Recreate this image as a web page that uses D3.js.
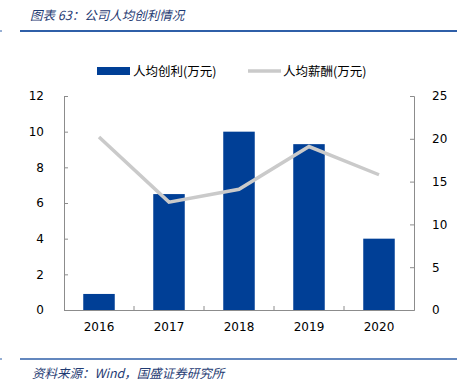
<!DOCTYPE html>
<html><head><meta charset="utf-8">
<script src="https://cdn.jsdelivr.net/npm/d3@7"></script>
<style>
body{margin:0;background:#fff;}
text{font-family:"DejaVu Sans",sans-serif;}
</style></head>
<body><svg id="c" width="457" height="390"></svg>
<script>
const categories = ["2016","2017","2018","2019","2020"];
const profitPerCapita = [0.9, 6.5, 10.0, 9.3, 4.0];
const salaryPerCapita = [20.2, 12.6, 14.1, 19.1, 15.8];
const leftTicks = [0,2,4,6,8,10,12];
const rightTicks = [0,5,10,15,20,25];
const seriesNames = ["人均创利(万元)","人均薪酬(万元)"];
const titleText = "图表 63：公司人均创利情况";
const sourceText = "资料来源：Wind，国盛证券研究所";

const svg = d3.select("#c");
const cjk = '"Noto Sans CJK SC",sans-serif';
const L = 64, R = 414, T = 96, B = 310;

// header
svg.append("text").attr("x",30).attr("y",20).attr("font-size",12.5)
  .attr("font-style","italic").attr("fill","#1f3b73").style("font-family",cjk).text(titleText);
svg.append("line").attr("x1",20).attr("x2",457).attr("y1",31).attr("y2",31)
  .attr("stroke","#2f5fa8").attr("stroke-width",2);
svg.append("line").attr("x1",0).attr("x2",2).attr("y1",31).attr("y2",31).attr("stroke","#2f5fa8");
// footer
svg.append("line").attr("x1",20).attr("x2",457).attr("y1",359).attr("y2",359)
  .attr("stroke","#2f5fa8").attr("stroke-width",1.5);
svg.append("line").attr("x1",0).attr("x2",2).attr("y1",359).attr("y2",359).attr("stroke","#2f5fa8");
svg.append("text").attr("x",32).attr("y",378).attr("font-size",12.5)
  .attr("font-style","italic").attr("fill","#1f3b73").style("font-family",cjk).text(sourceText);

const x = d3.scaleBand().domain(categories).range([L,R]).paddingInner(0.55).paddingOuter(0.275);
const xo = d3.scaleBand().domain(categories).range([L,R]);
const yL = d3.scaleLinear().domain([0,12]).range([B,T]);
const yR = d3.scaleLinear().domain([0,25]).range([B,T]);

// bars
svg.append("g").selectAll("rect").data(categories).join("rect")
  .attr("x",d=>x(d)).attr("width",x.bandwidth())
  .attr("y",(d,i)=>yL(profitPerCapita[i])).attr("height",(d,i)=>B-yL(profitPerCapita[i]))
  .attr("fill","#003f96");

// line
const line = d3.line().x((d,i)=>xo(categories[i])+xo.bandwidth()/2).y(d=>yR(d));
svg.append("path").datum(salaryPerCapita).attr("d",line).attr("fill","none")
  .attr("stroke","#cacaca").attr("stroke-width",3.5);

// axes
const axColor = "#8c8c8c";
const gL = svg.append("g").attr("transform",`translate(${L},0)`)
  .call(d3.axisLeft(yL).tickValues(leftTicks).tickSize(-4).tickPadding(20));
const gR = svg.append("g").attr("transform",`translate(${R},0)`)
  .call(d3.axisRight(yR).tickValues(rightTicks).tickSize(-4).tickPadding(18));
const gB = svg.append("g").attr("transform",`translate(0,${B})`)
  .call(d3.axisBottom(xo).tickSize(0).tickPadding(12));
[gL,gR,gB].forEach(g=>{
  g.select(".domain").attr("stroke",axColor);
  g.selectAll(".tick line").attr("stroke",axColor);
  g.selectAll("text").attr("font-size",12).attr("fill","#000").style("font-family","DejaVu Sans, sans-serif");
});
// x ticks between categories
svg.append("g").selectAll("line").data(categories.slice(1)).join("line")
  .attr("x1",d=>xo(d)).attr("x2",d=>xo(d)).attr("y1",B).attr("y2",B-4).attr("stroke",axColor);

// legend
svg.append("rect").attr("x",97).attr("y",67).attr("width",33).attr("height",8).attr("fill","#003f96");
svg.append("text").attr("x",133).attr("y",76).attr("font-size",12.5).style("font-family",cjk).text(seriesNames[0]);
svg.append("line").attr("x1",248).attr("x2",281).attr("y1",71).attr("y2",71).attr("stroke","#cacaca").attr("stroke-width",3.5);
svg.append("text").attr("x",283).attr("y",76).attr("font-size",12.5).style("font-family",cjk).text(seriesNames[1]);
</script></body></html>
